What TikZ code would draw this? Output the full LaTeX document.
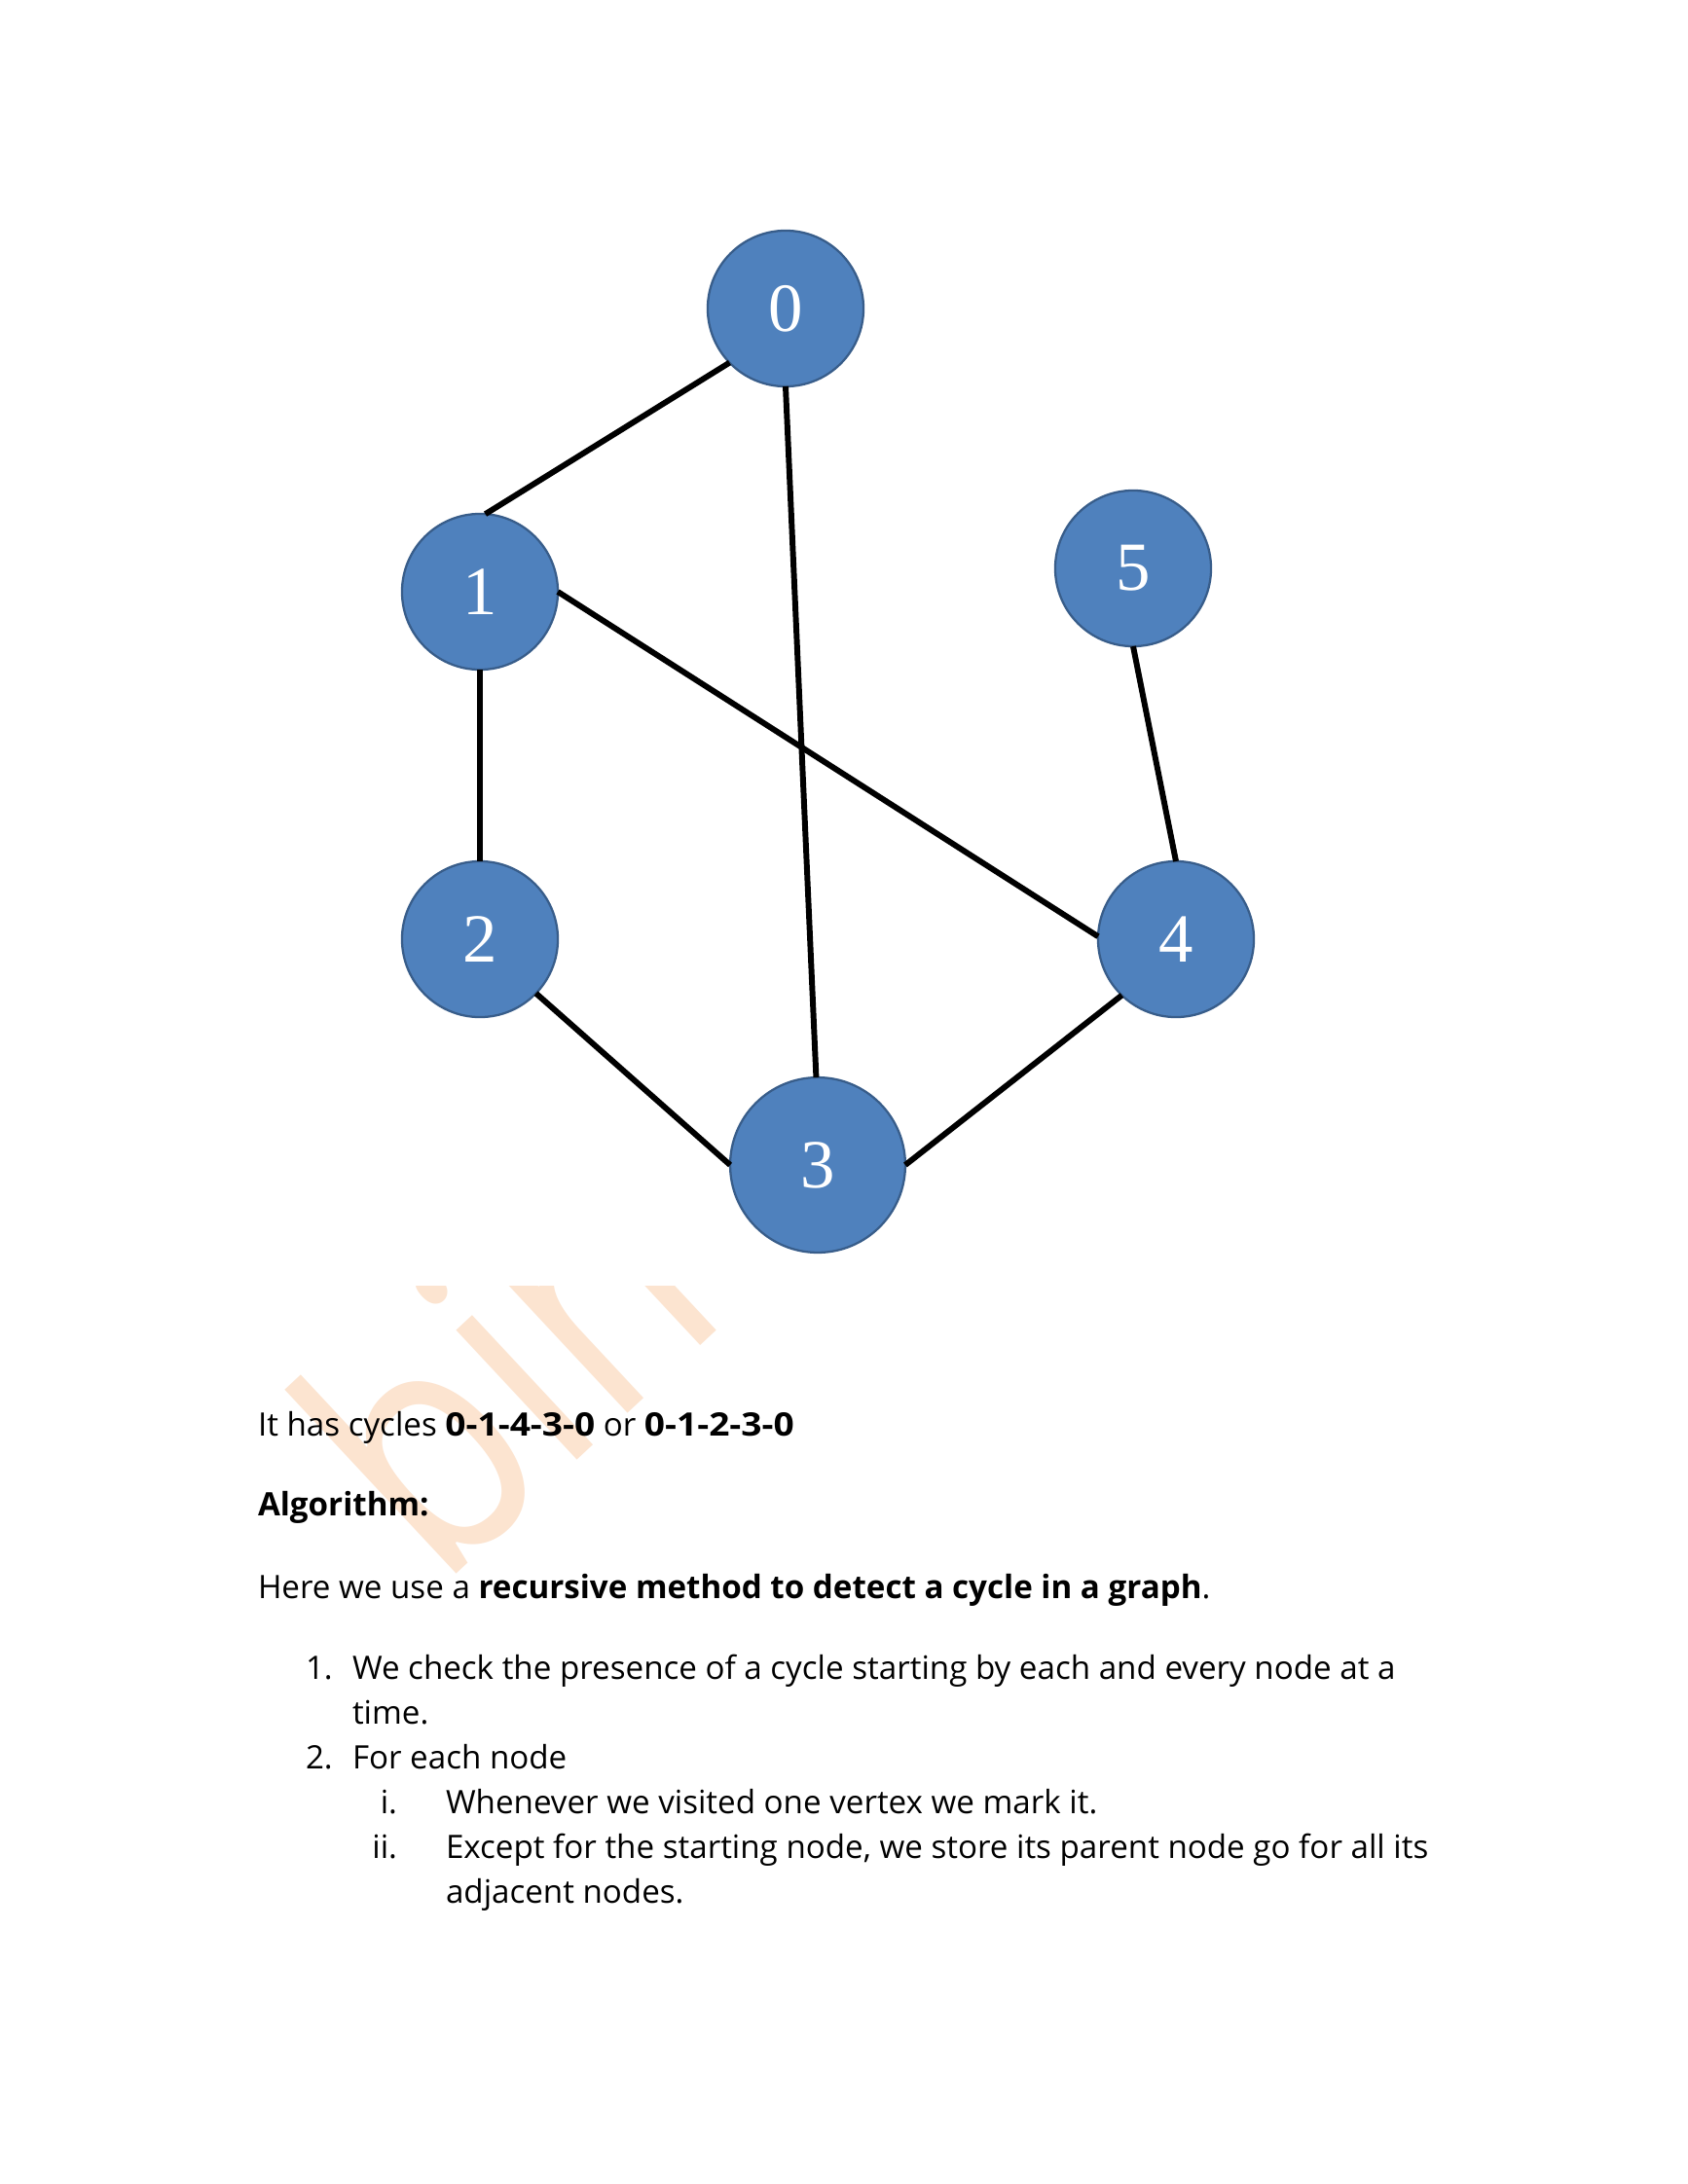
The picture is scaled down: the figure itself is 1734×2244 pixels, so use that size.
\documentclass[tikz,border=0pt]{standalone}
\usepackage{graphicx}
\usepackage{fontspec}
\setmainfont{Open Sans}
\newfontfamily\numfont{Liberation Serif}
\definecolor{nodeblue}{RGB}{79,129,189}
\definecolor{nodeedge}{RGB}{56,93,138}
\definecolor{wmorange}{RGB}{252,228,208}
\newcommand{\wdig}[1]{\scalebox{1.12}[1]{\textbf{#1}}}
\begin{document}
\begin{tikzpicture}[x=0.35294pt,y=-0.35294pt,
  vertex/.style={circle,fill=nodeblue,draw=nodeedge,line width=0.8pt,minimum size=56.5pt,inner sep=0pt,outer sep=0pt,text=white,font=\numfont\fontsize{25}{25}\selectfont},
  bigvertex/.style={vertex,minimum size=63.5pt},
  edge/.style={line width=2.1pt,black},
  txt/.style={anchor=base west,inner sep=0pt,outer sep=0pt,font=\fontsize{11.7}{14}\selectfont},
  rnum/.style={anchor=base east,inner sep=0pt,outer sep=0pt,font=\fontsize{11.7}{14}\selectfont},
  wm/.style={anchor=base west,inner sep=0pt,outer sep=0pt,text=wmorange,rotate=43,font=\fontsize{120}{120}\selectfont}]
\useasboundingbox (0,0) rectangle (1734,2244);
\fill[white] (0,0) rectangle (1734,2244);
% watermark
\begin{scope}
  \clip (0,1321) rectangle (1734,2244);
  \node[wm] (wmark) at (451,1633) {\scalebox{0.82}[1]{bin}};
\end{scope}
% graph
\node[vertex] (n0) at (807,317) {0};
\node[vertex] (n1) at (493,608) {1};
\node[vertex] (n5) at (1164,584) {5};
\node[vertex] (n2) at (493,965) {2};
\node[vertex] (n4) at (1208,965) {4};
\node[bigvertex] (n3) at (840,1197) {3};
\draw[edge] (n0.224) -- (n1.86);
\draw[edge] (n0.270) -- (n3.91);
\draw[edge] (n1.0) -- (n4.178);
\draw[edge] (n1.270) -- (n2.90);
\draw[edge] (n5.270) -- (n4.90);
\draw[edge] (n2.316) -- (n3.180);
\draw[edge] (n3.0) -- (n4.226);
% text
\node[txt] (l1) at (265,1475) {It has cycles \wdig{0-1-4-3-0} or \wdig{0-1-2-3-0}};
\node[txt] (l2) at (265,1557) {\textbf{Algorithm:}};
\node[txt] (l3) at (265,1642) {Here we use a \textbf{recursive method to detect a cycle in a graph}.};
\node[txt] (e1) at (314,1725) {1.};
\node[txt] (t1) at (362,1725) {We check the presence of a cycle starting by each and every node at a};
\node[txt] (t1b) at (362,1771) {time.};
\node[txt] (e2) at (314,1817) {2.};
\node[txt] (t2) at (362,1817) {For each node};
\node[rnum] (ei) at (408,1863) {i.};
\node[txt] (ti) at (458,1863) {Whenever we visited one vertex we mark it.};
\node[rnum] (eii) at (408,1909) {ii.};
\node[txt] (tii) at (458,1909) {Except for the starting node, we store its parent node go for all its};
\node[txt] (tiib) at (458,1955) {adjacent nodes.};
\end{tikzpicture}
\end{document}
